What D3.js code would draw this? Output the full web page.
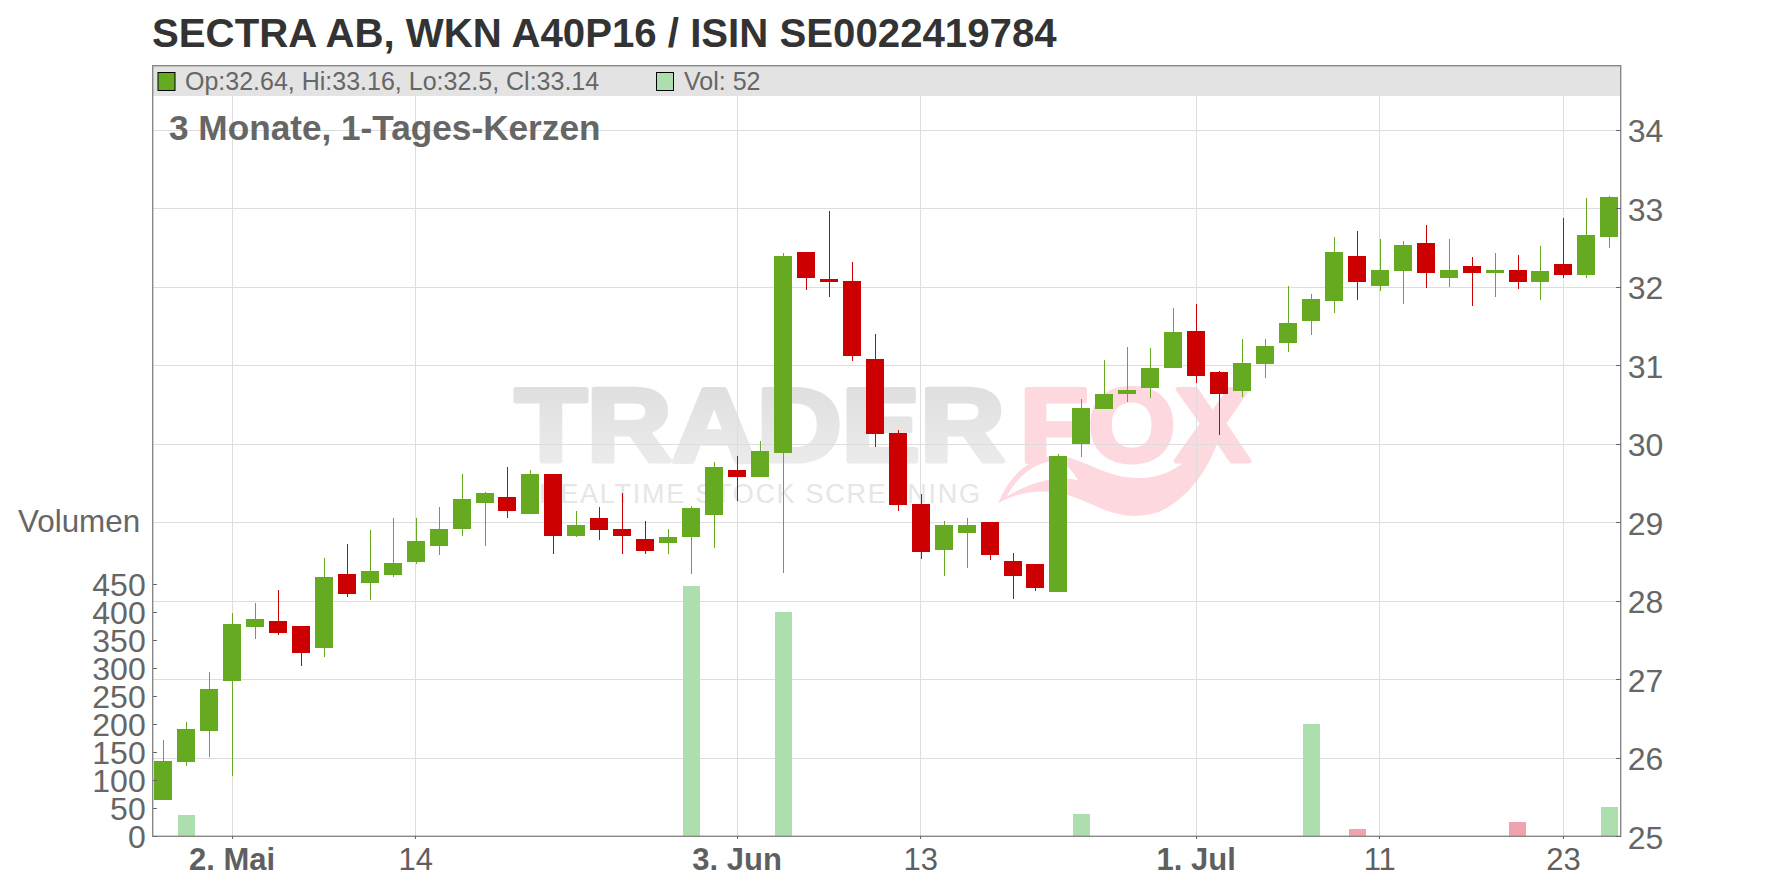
<!DOCTYPE html>
<html>
<head>
<meta charset="utf-8">
<title>SECTRA AB</title>
<script src="https://cdnjs.cloudflare.com/ajax/libs/d3/7.8.5/d3.min.js"></script>
<style>
html, body { margin: 0; padding: 0; background: #fff; }
svg { display: block; font-family: "Liberation Sans", Arial, sans-serif; }
.grid line { stroke: #dddddd; stroke-width: 1; shape-rendering: crispEdges; }
.grid path { display: none; }
.axis path { display: none; }
.axis line { stroke: #666; stroke-width: 1; shape-rendering: crispEdges; }
.axis text { fill: #666; font-size: 32px; font-family: "Liberation Sans", Arial, sans-serif; }
</style>
</head>
<body>
<div id="chart"></div>
<script>
const opens = [25.46, 25.95, 26.34, 26.98, 27.67, 27.74, 27.68, 27.40, 28.34, 28.23, 28.33, 28.49, 28.70, 28.92, 29.24, 29.32, 29.11, 29.62, 28.83, 29.06, 28.91, 28.79, 28.74, 28.81, 29.09, 29.67, 29.58, 29.88, 32.44, 32.10, 32.07, 31.08, 30.14, 29.23, 28.65, 28.86, 29.00, 28.51, 28.47, 28.11, 30.00, 30.44, 30.63, 30.71, 30.96, 31.44, 30.92, 30.67, 31.02, 31.28, 31.57, 31.82, 32.39, 32.01, 32.20, 32.56, 32.11, 32.27, 32.17, 32.22, 32.06, 32.29, 32.15, 32.64];
const highs = [26.23, 26.46, 27.09, 27.85, 27.97, 28.14, 27.68, 28.55, 28.72, 28.90, 29.06, 29.06, 29.20, 29.61, 29.39, 29.71, 29.67, 29.62, 29.14, 29.19, 29.37, 29.02, 28.92, 29.21, 29.77, 29.85, 30.04, 32.43, 32.44, 32.97, 32.32, 31.40, 30.18, 29.36, 29.02, 29.06, 29.00, 28.61, 28.47, 29.87, 30.57, 31.07, 31.23, 31.22, 31.73, 31.78, 30.93, 31.34, 31.33, 32.01, 31.91, 32.64, 32.71, 32.61, 32.58, 32.79, 32.61, 32.38, 32.43, 32.41, 32.52, 32.88, 33.13, 33.16];
const lows = [25.46, 25.90, 26.01, 25.77, 27.51, 27.56, 27.17, 27.28, 28.05, 28.01, 28.30, 28.47, 28.58, 28.83, 28.70, 29.05, 29.11, 28.59, 28.81, 28.78, 28.59, 28.59, 28.60, 28.34, 28.67, 29.27, 29.58, 28.35, 31.96, 31.87, 31.06, 29.96, 29.14, 28.53, 28.32, 28.42, 28.52, 28.02, 28.13, 28.11, 29.83, 30.44, 30.53, 30.58, 30.96, 30.77, 30.11, 30.59, 30.84, 31.17, 31.38, 31.67, 31.83, 31.95, 31.78, 31.99, 32.00, 31.76, 31.87, 31.97, 31.83, 32.11, 32.11, 32.50];
const closes = [25.96, 26.37, 26.88, 27.70, 27.77, 27.59, 27.34, 28.30, 28.09, 28.38, 28.48, 28.76, 28.92, 29.30, 29.37, 29.14, 29.61, 28.83, 28.97, 28.90, 28.82, 28.63, 28.81, 29.18, 29.70, 29.58, 29.91, 32.39, 32.11, 32.06, 31.12, 30.13, 29.22, 28.62, 28.97, 28.97, 28.58, 28.32, 28.16, 29.85, 30.46, 30.63, 30.69, 30.97, 31.43, 30.86, 30.64, 31.03, 31.24, 31.54, 31.85, 32.44, 32.06, 32.22, 32.53, 32.18, 32.22, 32.17, 32.22, 32.06, 32.20, 32.15, 32.66, 33.14];
// only the days that show a bar, index into the candles
const volumeDays = [1, 23, 27, 40, 50, 52, 59, 63];
const volumes = [38, 447, 400, 40, 200, 13, 25, 52];

const priceTicks = [25, 26, 27, 28, 29, 30, 31, 32, 33, 34];
const volumeTicks = [0, 50, 100, 150, 200, 250, 300, 350, 400, 450];
const dayTicks = [3, 11, 25, 33, 45, 53, 61];
const dayLabels = ['2. Mai', '14', '3. Jun', '13', '1. Jul', '11', '23'];

const titleText = 'SECTRA AB, WKN A40P16 / ISIN SE0022419784';
const subtitleText = '3 Monate, 1-Tages-Kerzen';
const ohlcText = 'Op:32.64, Hi:33.16, Lo:32.5, Cl:33.14';
const volText = 'Vol: 52';

const green = '#66aa22';
const red = '#cc0000';
const volGreen = '#addead';
const volRed = '#efa3ae';

const width = 1776;
const height = 888;
const plotLeft = 152.7;
const plotRight = 1620.7;
const plotTop = 65.7;
const plotBottom = 836.3;

const svg = d3.select('#chart').append('svg')
    .attr('width', width)
    .attr('height', height);

const x = d3.scaleBand().domain(d3.range(opens.length)).range([151.7, 1620.8]);
const cx = i => x(i) + x.bandwidth() / 2;
const yPrice = d3.scaleLinear().domain([25, 34]).range([plotBottom, 129.8]);
const yVolume = d3.scaleLinear().domain([0, 450]).range([plotBottom, 584.3]);

// watermark, sits under everything else
const defs = svg.append('defs');
const fade = defs.append('linearGradient').attr('id', 'fade')
    .attr('x1', 0).attr('y1', 0).attr('x2', 0).attr('y2', 1);
fade.append('stop').attr('offset', 0).attr('stop-color', '#dcdcdc');
fade.append('stop').attr('offset', 1).attr('stop-color', '#eeeeee');

const mark = svg.append('g').attr('class', 'watermark');
mark.append('text')
    .attr('x', 515).attr('y', 461)
    .attr('textLength', 490).attr('lengthAdjust', 'spacingAndGlyphs')
    .attr('font-size', 104).attr('font-weight', 'bold')
    .attr('fill', 'url(#fade)').attr('stroke', 'url(#fade)').attr('stroke-width', 5).attr('stroke-linejoin', 'round')
    .text('TRADER');
mark.append('text')
    .attr('x', 1020).attr('y', 461)
    .attr('textLength', 230).attr('lengthAdjust', 'spacingAndGlyphs')
    .attr('font-size', 104).attr('font-weight', 'bold')
    .attr('fill', '#fdd9df').attr('stroke', '#fdd9df').attr('stroke-width', 5).attr('stroke-linejoin', 'round')
    .text('FOX');
mark.append('text')
    .attr('x', 539).attr('y', 503)
    .attr('textLength', 441).attr('lengthAdjust', 'spacing')
    .attr('font-size', 27)
    .attr('fill', '#e6e6e6')
    .text('REALTIME STOCK SCREENING');
// fox tail, traced in the zoomed crop and scaled back
const tail = mark.append('g').attr('transform', 'translate(980,370) scale(0.3333)');
tail.append('path')
    .attr('d', 'M55,400 C85,320 150,255 235,258 C300,262 360,310 440,322 C540,335 620,290 665,215 L705,135 L722,190 C690,290 640,370 550,420 C480,450 410,440 340,405 C270,372 170,335 55,400 Z')
    .attr('fill', '#fdd9df');
tail.append('path')
    .attr('d', 'M80,380 C110,320 165,275 225,272 C255,275 275,300 295,332 C250,315 170,325 80,380 Z')
    .attr('fill', '#fff');

// grid
svg.append('g').attr('class', 'grid')
    .attr('transform', `translate(${plotLeft},0)`)
    .call(d3.axisRight(yPrice).tickValues(priceTicks).tickSize(plotRight - plotLeft).tickFormat(''));
svg.append('g').attr('class', 'grid')
    .attr('transform', `translate(0,${plotTop})`)
    .call(d3.axisBottom(x).tickValues(dayTicks).tickSize(plotBottom - plotTop).tickFormat(''));

// volume bars
svg.append('g').selectAll('rect')
    .data(volumes)
    .enter()
    .append('rect')
    .attr('shape-rendering', 'crispEdges')
    .attr('x', (d, i) => cx(volumeDays[i]) - 8.2)
    .attr('y', d => yVolume(d))
    .attr('width', 17)
    .attr('height', d => plotBottom - yVolume(d))
    .attr('fill', (d, i) => closes[volumeDays[i]] >= opens[volumeDays[i]] ? volGreen : volRed);

// candles
const candles = svg.append('g').selectAll('g')
    .data(opens)
    .enter()
    .append('g')
    .attr('fill', (d, i) => closes[i] >= d ? green : red)
    .attr('shape-rendering', 'crispEdges');
candles.append('rect')
    .attr('x', (d, i) => Math.round(cx(i)))
    .attr('y', (d, i) => yPrice(highs[i]))
    .attr('width', 1)
    .attr('height', (d, i) => yPrice(lows[i]) - yPrice(highs[i]));
candles.append('rect')
    .attr('x', (d, i) => Math.round(cx(i)) - 9)
    .attr('y', (d, i) => yPrice(Math.max(d, closes[i])))
    .attr('width', 18)
    .attr('height', (d, i) => Math.abs(yPrice(d) - yPrice(closes[i])));

// legend band
svg.append('rect')
    .attr('x', plotLeft).attr('y', plotTop)
    .attr('width', plotRight - plotLeft).attr('height', 30.3)
    .attr('fill', '#e3e3e3');

svg.append('rect')
    .attr('x', plotLeft).attr('y', plotTop)
    .attr('width', plotRight - plotLeft).attr('height', plotBottom - plotTop)
    .attr('fill', 'none').attr('stroke', '#888').attr('stroke-width', 1.4);

// axes
const axisPrice = svg.append('g').attr('class', 'axis')
    .attr('transform', `translate(${plotRight},0)`)
    .call(d3.axisRight(yPrice).tickValues(priceTicks).tickSize(-4.5).tickPadding(7).tickFormat(d3.format('d')));
axisPrice.selectAll('text').attr('dy', null).attr('transform', 'translate(0,12)');
const axisVolume = svg.append('g').attr('class', 'axis')
    .attr('transform', `translate(${plotLeft},0)`)
    .call(d3.axisLeft(yVolume).tickValues(volumeTicks).tickSize(-4.5).tickPadding(7).tickFormat(d3.format('d')));
axisVolume.selectAll('text').attr('dy', null).attr('transform', 'translate(0,10.8)');

const axisDays = svg.append('g').attr('class', 'axis')
    .attr('transform', `translate(0,${plotBottom})`)
    .call(d3.axisBottom(x).tickValues(dayTicks).tickSize(2.5).tickFormat((d, i) => dayLabels[i]));
axisDays.selectAll('text')
    .attr('dy', null)
    .attr('y', 33.7)
    .style('fill', '#5f5f5f')
    .style('font-size', '31px')
    .attr('font-weight', (d, i) => dayLabels[i].includes('.') ? 'bold' : 'normal');

// texts
svg.append('text')
    .attr('x', 152).attr('y', 46.5)
    .attr('font-size', 40.2).attr('font-weight', 'bold').attr('fill', '#333')
    .text(titleText);
svg.append('text')
    .attr('x', 169).attr('y', 140)
    .attr('font-size', 35.2).attr('font-weight', 'bold').attr('fill', '#666')
    .text(subtitleText);
svg.append('text')
    .attr('x', 18).attr('y', 531.7)
    .attr('font-size', 31.4).attr('fill', '#666')
    .text('Volumen');

// legend entries
svg.append('rect')
    .attr('x', 158).attr('y', 72.5).attr('width', 17).attr('height', 18)
    .attr('fill', green).attr('stroke', '#000').attr('stroke-width', 1);
svg.append('text')
    .attr('x', 185).attr('y', 90)
    .attr('font-size', 25).attr('fill', '#666')
    .text(ohlcText);
svg.append('rect')
    .attr('x', 656.5).attr('y', 72.5).attr('width', 17).attr('height', 18)
    .attr('fill', volGreen).attr('stroke', '#000').attr('stroke-width', 1);
svg.append('text')
    .attr('x', 684).attr('y', 90)
    .attr('font-size', 25).attr('fill', '#666')
    .text(volText);
</script>
</body>
</html>
